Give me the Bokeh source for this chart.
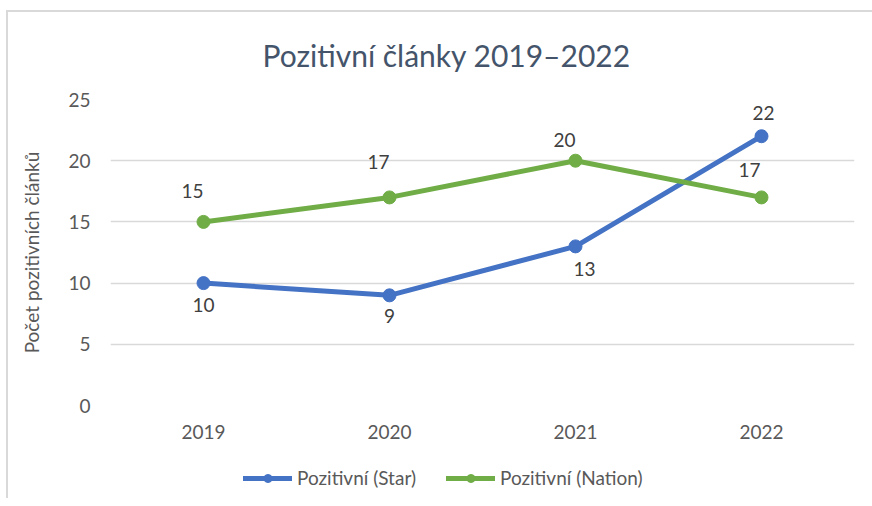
from bokeh.plotting import figure
from bokeh.layouts import column
from bokeh.models import (Range1d, FixedTicker, Legend, LegendItem,
                          ColumnDataSource, LabelSet)
from bokeh.core.properties import value
from bokeh.embed import file_html
from bokeh.resources import INLINE

# ---- data ----
years = ["2019", "2020", "2021", "2022"]
star = [10, 9, 13, 22]
nation = [15, 17, 20, 17]
y_ticks = [0, 5, 10, 15, 20, 25]
title_text = "Pozitivní články 2019–2022"
y_label = "Počet pozitivních článků"
star_name = "Pozitivní (Star)"
nation_name = "Pozitivní (Nation)"

# ---- label placement (style, in px) ----
star_dx = [0, 0, 9, 2]
star_dy = [-22, -21, -23, 23]
nation_dx = [-11, -11, -11, -12]
nation_dy = [31, 35, 21, 27]

BLUE = "#4472C4"
GREEN = "#70AD47"
FONT = "Lato"
TXT = "#595959"
GRAD = "linear-gradient(#d9d9d9,#d9d9d9)"

xs = list(range(len(years)))

p = figure(frame_width=744, frame_height=306, output_backend="svg", toolbar_location=None,
           x_range=Range1d(-0.5, len(years) - 0.5), y_range=Range1d(0, 25),
           min_border_left=110, min_border_right=18, min_border_top=99,
           min_border_bottom=50)
p.outline_line_color = None
p.background_fill_color = "white"
p.border_fill_alpha = 0
p.styles = {"background": f"{GRAD} 6px 10px / 2px 100% no-repeat, "
                          f"{GRAD} 6px 10px / 100% 2px no-repeat, white"}

# axes
p.xaxis.ticker = FixedTicker(ticks=xs)
p.xaxis.major_label_overrides = {i: y for i, y in enumerate(years)}
p.yaxis.ticker = FixedTicker(ticks=y_ticks)
for ax in (p.xaxis, p.yaxis):
    ax.axis_line_color = None
    ax.major_tick_line_color = None
    ax.minor_tick_line_color = None
    ax.major_tick_out = 0
    ax.major_tick_in = 0
    ax.minor_tick_out = 0
    ax.major_label_text_font = FONT
    ax.major_label_text_font_size = "19px"
    ax.major_label_text_color = TXT
p.xaxis.major_label_standoff = 19
p.yaxis.major_label_standoff = 20
p.yaxis.axis_label = y_label
p.yaxis.axis_label_text_font = FONT
p.yaxis.axis_label_text_font_size = "19px"
p.yaxis.axis_label_text_font_style = "normal"
p.yaxis.axis_label_text_color = TXT
p.yaxis.axis_label_standoff = 22

p.xgrid.grid_line_color = None
p.ygrid.grid_line_color = "#d9d9d9"
p.ygrid.grid_line_width = 1.5

src_s = ColumnDataSource(dict(x=xs, y=star, t=[str(v) for v in star], dx=star_dx, dy=star_dy))
src_n = ColumnDataSource(dict(x=xs, y=nation, t=[str(v) for v in nation], dx=nation_dx, dy=nation_dy))

line_style = dict(line_width=5, line_join="round", line_cap="round")
p.line("x", "y", source=src_s, line_color=BLUE, **line_style)
p.scatter("x", "y", source=src_s, size=13, fill_color=BLUE, line_color=BLUE)
p.line("x", "y", source=src_n, line_color=GREEN, **line_style)
p.scatter("x", "y", source=src_n, size=13, fill_color=GREEN, line_color=GREEN)

for src in (src_s, src_n):
    p.add_layout(LabelSet(x="x", y="y", text="t", source=src, x_offset="dx", y_offset="dy",
                          text_align="center", text_baseline="middle",
                          text_font=value(FONT), text_font_size=value("19px"),
                          text_color="#404040"))

# title
p.title.text = title_text
p.title.align = "left"
p.title.offset = 152
p.title.standoff = 54
p.title.text_font = FONT
p.title.text_font_size = "30px"
p.title.text_font_style = "normal"
p.title.text_color = "#44546A"

# ---- legend strip under the chart (same series; its view range shows no marks) ----
leg = figure(width=872, height=43, output_backend="svg", toolbar_location=None,
             x_range=Range1d(-0.5, len(years) - 0.5), y_range=Range1d(-2, -1), title=None,
             x_axis_location=None, y_axis_location=None,
             min_border_left=0, min_border_right=0, min_border_top=0, min_border_bottom=0)
leg.outline_line_color = None
leg.xgrid.visible = False
leg.ygrid.visible = False
leg.border_fill_alpha = 0
leg.background_fill_alpha = 0
leg.styles = {"background": f"{GRAD} 6px 0 / 2px 100% no-repeat, white"}
ls = leg.line("x", "y", source=src_s, line_color=BLUE, **line_style)
ss = leg.scatter("x", "y", source=src_s, size=13, fill_color=BLUE, line_color=BLUE)
ln = leg.line("x", "y", source=src_n, line_color=GREEN, **line_style)
sn = leg.scatter("x", "y", source=src_n, size=13, fill_color=GREEN, line_color=GREEN)
legend = Legend(items=[LegendItem(label=star_name, renderers=[ls, ss]),
                       LegendItem(label=nation_name, renderers=[ln, sn])],
                location=(133, 9), orientation="horizontal",
                border_line_color=None, background_fill_alpha=0,
                padding=0, margin=0, spacing=30, glyph_width=49, glyph_height=20,
                label_standoff=5, label_text_font=FONT, label_text_font_size="19px",
                label_text_color=TXT, label_text_baseline="middle")
leg.add_layout(legend)

layout = column(p, leg, spacing=0)
open("out.html", "w").write(file_html(layout, INLINE))
